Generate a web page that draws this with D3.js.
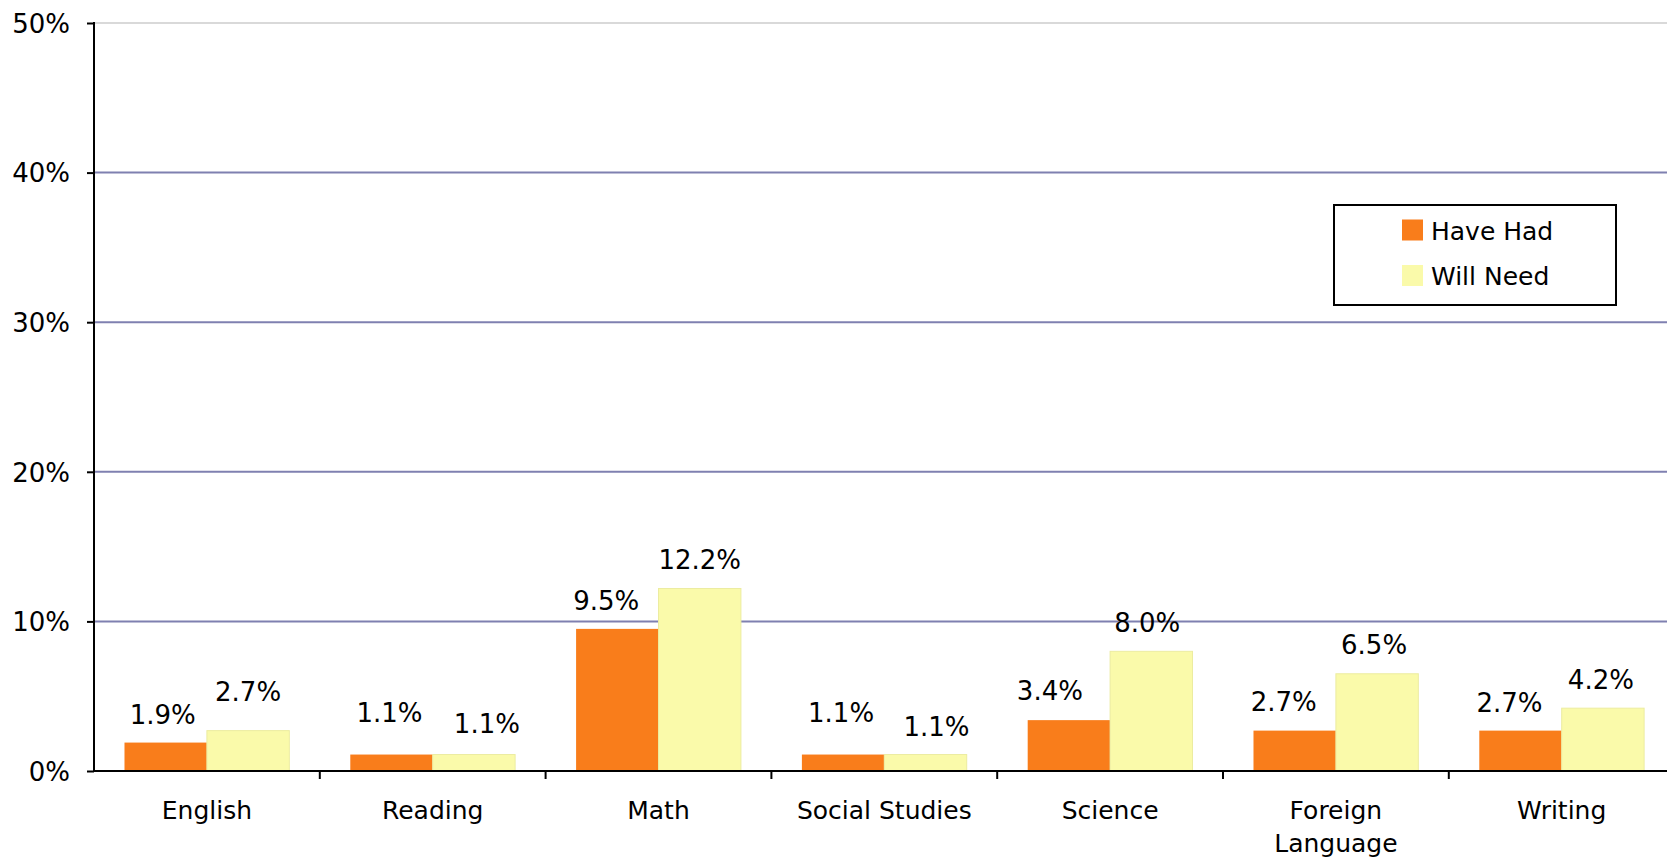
<!DOCTYPE html>
<html>
<head>
<meta charset="utf-8">
<script src="https://cdn.jsdelivr.net/npm/d3@7"></script>
<style>
  html, body { margin: 0; padding: 0; background: #fff; overflow: hidden; }
  svg { display: block; font-family: "DejaVu Sans", Verdana, sans-serif; }
</style>
</head>
<body>
<svg id="chart" width="1667" height="861"></svg>
<script>
// ---- data ----
const categories = ["English", "Reading", "Math", "Social Studies", "Science", "Foreign Language", "Writing"];
const seriesNames = ["Have Had", "Will Need"];
const haveHad = [1.9, 1.1, 9.5, 1.1, 3.4, 2.7, 2.7];
const willNeed = [2.7, 1.1, 12.2, 1.1, 8.0, 6.5, 4.2];
const yTicks = [0, 10, 20, 30, 40, 50];
const yTickLabels = ["0%", "10%", "20%", "30%", "40%", "50%"];

// ---- layout / style ----
const colors = ["#F97D1B", "#FAFAAA"];
const plot = { left: 94, top: 23, bottom: 771, step: 225.8 };
// manual label nudges (as placed in the original), [dx, dy] per category per series
const labelNudge = [
  [[-3, 0], [0, -11]],
  [[-2, -14], [13, -3]],
  [[-11, 0], [0, 0]],
  [[-2, -14], [11, 0]],
  [[-19, -1], [-4, 0]],
  [[-11, -1], [-3, -1]],
  [[-11, 0], [-2, 0]]
];

const svg = d3.select("#chart");
const W = 1667;

const x = d3.scaleBand()
  .domain(categories)
  .range([plot.left, plot.left + plot.step * categories.length])
  .paddingInner(0).paddingOuter(0);

const xs = d3.scaleBand()
  .domain(seriesNames)
  .range([0, x.bandwidth()])
  .paddingInner(0).paddingOuter(0.37);

const y = d3.scaleLinear().domain([0, 50]).range([plot.bottom, plot.top]);

// gridlines
svg.append("g").selectAll("line")
  .data(yTicks.filter(d => d > 0))
  .join("line")
  .attr("x1", plot.left).attr("x2", W)
  .attr("y1", d => y(d)).attr("y2", d => y(d))
  .attr("stroke", d => d === 50 ? "#cccccc" : "#7f80b0")
  .attr("stroke-width", d => d === 50 ? 1.5 : 2);

// bars
const rows = categories.map((c, i) => ({ cat: c, i, vals: [haveHad[i], willNeed[i]] }));
const grp = svg.append("g").selectAll("g")
  .data(rows).join("g")
  .attr("transform", d => `translate(${x(d.cat)},0)`);

grp.selectAll("rect")
  .data(d => d.vals.map((v, j) => ({ v, j, s: seriesNames[j] })))
  .join("rect")
  .attr("x", d => xs(d.s))
  .attr("width", xs.bandwidth())
  .attr("y", d => y(d.v))
  .attr("height", d => y(0) - y(d.v))
  .attr("fill", d => colors[d.j])
  .attr("stroke", d => d.j === 1 ? "#ececa0" : "none")
  .attr("stroke-width", 1);

// value labels
grp.each(function(row) {
  d3.select(this).selectAll("text.val")
    .data(row.vals.map((v, j) => ({ v, j, s: seriesNames[j], n: labelNudge[row.i][j] })))
    .join("text")
    .attr("class", "val")
    .attr("x", d => xs(d.s) + xs.bandwidth() / 2 + d.n[0])
    .attr("y", d => y(d.v) - 19 + d.n[1])
    .attr("text-anchor", "middle")
    .attr("font-size", 26)
    .attr("fill", "#000")
    .text(d => d.v.toFixed(1) + "%");
});

// y axis
const yAxis = d3.axisLeft(y)
  .tickValues(yTicks)
  .tickFormat((d, i) => yTickLabels[i])
  .tickSize(7).tickPadding(17);
const gy = svg.append("g").attr("transform", `translate(${plot.left},0)`).call(yAxis);
gy.select(".domain").remove();
gy.selectAll(".tick line").attr("stroke", "#000").attr("stroke-width", 2);
gy.selectAll(".tick text").attr("font-size", 26).attr("fill", "#000")
  .attr("font-family", "DejaVu Sans, sans-serif").attr("dy", "0.36em");
svg.append("line")
  .attr("x1", plot.left).attr("x2", plot.left)
  .attr("y1", plot.top - 1).attr("y2", plot.bottom + 1)
  .attr("stroke", "#000").attr("stroke-width", 2);

// x axis
svg.append("line")
  .attr("x1", plot.left - 1).attr("x2", W)
  .attr("y1", plot.bottom).attr("y2", plot.bottom)
  .attr("stroke", "#000").attr("stroke-width", 2);
svg.append("g").selectAll("line")
  .data(categories.slice(1))
  .join("line")
  .attr("x1", d => x(d)).attr("x2", d => x(d))
  .attr("y1", plot.bottom).attr("y2", plot.bottom + 8)
  .attr("stroke", "#000").attr("stroke-width", 2);

// category labels (wrap long ones)
const catText = svg.append("g").selectAll("text")
  .data(categories).join("text")
  .attr("x", d => x(d) + x.bandwidth() / 2)
  .attr("y", plot.bottom + 48)
  .attr("text-anchor", "middle")
  .attr("font-size", 25)
  .attr("fill", "#000")
  .text(d => d);
catText.each(function(d) {
  const t = d3.select(this);
  if (this.getComputedTextLength() > 190) {
    const words = d.split(" ");
    t.text(null);
    words.forEach((w, k) => {
      t.append("tspan")
        .attr("x", x(d) + x.bandwidth() / 2)
        .attr("dy", k === 0 ? 0 : 33)
        .text(w);
    });
  }
});

// legend
const lg = svg.append("g").attr("transform", "translate(1334,205)");
lg.append("rect").attr("width", 282).attr("height", 100)
  .attr("fill", "#fff").attr("stroke", "#000").attr("stroke-width", 2);
const li = lg.selectAll("g.item").data(seriesNames).join("g")
  .attr("class", "item")
  .attr("transform", (d, i) => `translate(68,${14.5 + i * 45.5})`);
li.append("rect").attr("width", 21).attr("height", 21)
  .attr("fill", (d, i) => colors[i]);
li.append("text").attr("x", 29).attr("y", 20)
  .attr("font-size", 25).attr("fill", "#000")
  .text(d => d);
</script>
</body>
</html>
